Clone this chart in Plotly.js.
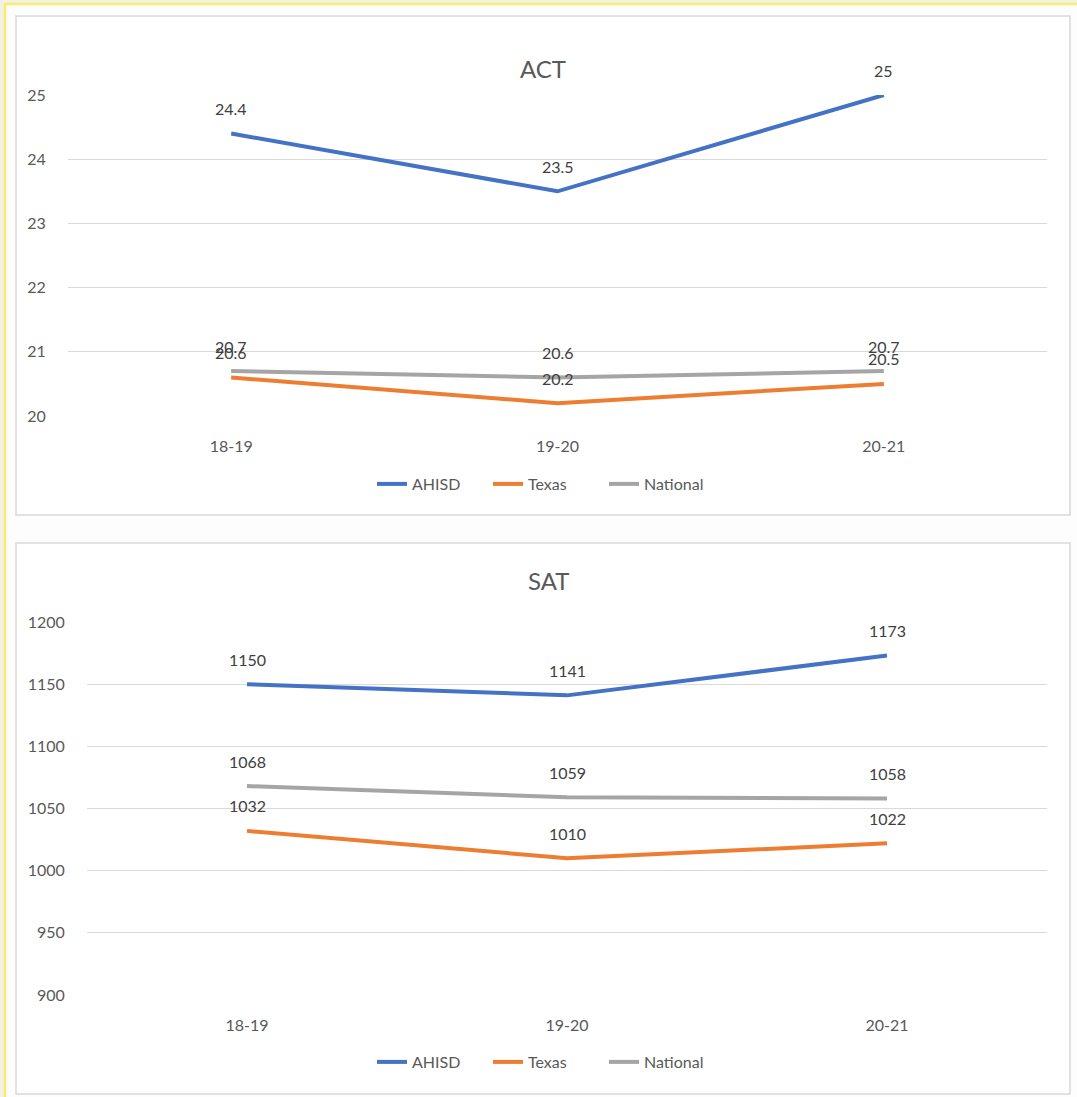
<!DOCTYPE html>
<html>
<head>
<meta charset="utf-8">
<script src="https://cdn.plot.ly/plotly-3.0.1.min.js"></script>
<style>html,body{margin:0;padding:0;background:#f2f0e8;}#chart{width:1077px;height:1097px;}</style>
</head>
<body>
<div id="chart"></div>
<script>
const years = ["18-19", "19-20", "20-21"];
const actAHISD = [24.4, 23.5, 25];
const actTexas = [20.6, 20.2, 20.5];
const actNational = [20.7, 20.6, 20.7];
const satAHISD = [1150, 1141, 1173];
const satTexas = [1032, 1010, 1022];
const satNational = [1068, 1059, 1058];
const seriesNames = ["AHISD", "Texas", "National"];
const seriesColors = ["#4472C4", "#ED7D31", "#A5A5A5"];

const W = 1077, H = 1097;
const px = x => x / W;
const py = y => 1 - y / H;
const FONT = "Lato, 'Open Sans', sans-serif";
const TXT = "#595959";

function mk(vals, i, xa, ya, leg) {
  return {
    x: years, y: vals, type: "scatter", mode: "lines", name: seriesNames[i],
    xaxis: xa, yaxis: ya, legend: leg,
    line: {color: seriesColors[i], width: 4},
    hoverinfo: "skip"
  };
}
const traces = [
  mk(actAHISD, 0, "x", "y", "legend"),
  mk(actTexas, 1, "x", "y", "legend"),
  mk(actNational, 2, "x", "y", "legend"),
  mk(satAHISD, 0, "x2", "y2", "legend2"),
  mk(satTexas, 1, "x2", "y2", "legend2"),
  mk(satNational, 2, "x2", "y2", "legend2")
];

const annotations = [];
function labels(vals, xr, yr) {
  vals.forEach((v, i) => annotations.push({
    x: years[i], y: v, xref: xr, yref: yr, text: String(v), showarrow: false,
    yshift: 25, font: {family: FONT, size: 16, color: "#404040"}
  }));
}
[actAHISD, actTexas, actNational].forEach(v => labels(v, "x", "y"));
[satAHISD, satTexas, satNational].forEach(v => labels(v, "x2", "y2"));
annotations.push({x: px(543), y: py(52), xref: "paper", yref: "paper", text: "ACT", showarrow: false,
  font: {family: FONT, size: 24, color: TXT}});
annotations.push({x: px(548), y: py(580), xref: "paper", yref: "paper", text: "SAT", showarrow: false,
  font: {family: FONT, size: 24, color: TXT}});

const xaxisBase = {
  type: "category", range: [-0.5, 2.5],
  showgrid: false, zeroline: false, showline: false,
  ticks: "outside", ticklen: 16, tickcolor: "rgba(0,0,0,0)",
  tickfont: {family: FONT, size: 16, color: TXT}, fixedrange: true
};
const yaxisBase = {
  showgrid: true, gridcolor: "#D9D9D9", gridwidth: 1, zeroline: false, showline: false,
  ticks: "outside", ticklen: 18, tickcolor: "rgba(0,0,0,0)",
  tickfont: {family: FONT, size: 16, color: TXT}, fixedrange: true
};

const shapes = [
  {type: "rect", xref: "paper", yref: "paper", x0: px(5), x1: 1.02, y0: -0.02, y1: py(4),
   fillcolor: "#fdfdfd", line: {color: "#f7ee6a", width: 2.5}, layer: "below"},
  {type: "rect", xref: "paper", yref: "paper", x0: px(16), x1: px(1070), y0: py(515), y1: py(16),
   fillcolor: "#ffffff", line: {color: "#d9d9d9", width: 1.5}, layer: "below"},
  {type: "rect", xref: "paper", yref: "paper", x0: px(16), x1: px(1070), y0: py(1094), y1: py(543),
   fillcolor: "#ffffff", line: {color: "#d9d9d9", width: 1.5}, layer: "below"}
];

const legendBase = {
  orientation: "h", xanchor: "center", yanchor: "middle", x: px(546),
  font: {family: FONT, size: 16, color: TXT}, bgcolor: "rgba(0,0,0,0)",
  itemwidth: 30, tracegroupgap: 0, entrywidth: 71, entrywidthmode: "pixels"
};

const layout = {
  width: W, height: H, margin: {l: 0, r: 0, t: 0, b: 0},
  paper_bgcolor: "#f2f0e8", plot_bgcolor: "rgba(0,0,0,0)",
  showlegend: true,
  xaxis: Object.assign({}, xaxisBase, {anchor: "y", domain: [px(68), px(1047)]}),
  yaxis: Object.assign({}, yaxisBase, {anchor: "x", domain: [py(416), py(95)], range: [20, 25], dtick: 1}),
  xaxis2: Object.assign({}, xaxisBase, {anchor: "y2", domain: [px(87), px(1047)]}),
  yaxis2: Object.assign({}, yaxisBase, {anchor: "x2", domain: [py(995), py(622)], range: [900, 1200], dtick: 50}),
  legend: Object.assign({}, legendBase, {y: py(484)}),
  legend2: Object.assign({}, legendBase, {y: py(1062)}),
  annotations: annotations,
  shapes: shapes,
  font: {family: FONT}
};

Plotly.newPlot("chart", traces, layout, {staticPlot: true, displayModeBar: false});
</script>
</body>
</html>
